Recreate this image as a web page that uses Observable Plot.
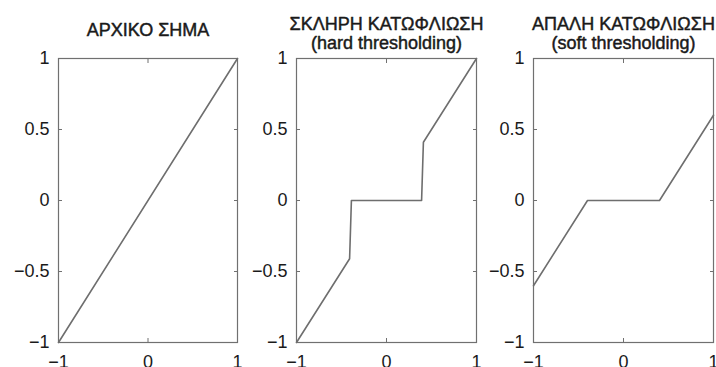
<!DOCTYPE html>
<html>
<head>
<meta charset="utf-8">
<script src="https://cdn.jsdelivr.net/npm/d3@7"></script>
<script src="https://cdn.jsdelivr.net/npm/@observablehq/plot@0.6"></script>
<style>
  body { margin: 0; background: #fff; }
  #chart { position: relative; width: 716px; height: 367px; overflow: hidden; background: #fff; }
  #chart svg { position: absolute; top: 0; overflow: visible; }
</style>
</head>
<body>
<div id="chart"></div>
<script>
// Tick values shared by all three panels
const xTicks = [-1, 0, 1];
const yTicks = [-1, -0.5, 0, 0.5, 1];

// Panel titles
const titles = [
  "ΑΡΧΙΚΟ ΣΗΜΑ",
  "ΣΚΛΗΡΗ ΚΑΤΩΦΛΙΩΣΗ\n(hard thresholding)",
  "ΑΠΑΛΗ ΚΑΤΩΦΛΙΩΣΗ\n(soft thresholding)"
];

// Original signal (identity)
const originalX = [-1, 1];
const originalY = [-1, 1];

// Hard thresholding, threshold ≈ 0.4
const hardX = [-1, -0.41, -0.39, 0.39, 0.41, 1];
const hardY = [-1, -0.41, 0, 0, 0.41, 1];

// Soft thresholding, threshold ≈ 0.4
const softX = [-1, -0.4, 0.4, 1];
const softY = [-0.6, 0, 0, 0.6];

const font = "'Liberation Sans', Arial, sans-serif";
const lineColor = "#6e6e6e";
const boxColor = "#707070";
const textColor = "#1a1a1a";

// "−1", "−0.5", "0", "0.5", "1"
const fmt = d => (d < 0 ? "\u2212" : "") + String(Math.abs(d));

// slightly heavier glyphs: a thin outline in the text colour
const heavy = {stroke: textColor, strokeWidth: 0.45, fill: textColor};

const panels = [
  {left: 0,   width: 245, marginLeft: 58, marginRight: 8, xs: originalX, ys: originalY, title: titles[0], titleDy: -22.5},
  {left: 245, width: 237, marginLeft: 51, marginRight: 6, xs: hardX, ys: hardY, title: titles[1], titleDy: -10},
  {left: 482, width: 234, marginLeft: 51, marginRight: 3, xs: softX, ys: softY, title: titles[2], titleDy: -10}
];

const chart = document.getElementById("chart");

for (const p of panels) {
  const svg = Plot.plot({
    width: p.width,
    height: 367,
    marginLeft: p.marginLeft,
    marginRight: p.marginRight,
    marginTop: 58,
    marginBottom: 25,
    x: {domain: [-1, 1], label: null},
    y: {domain: [-1, 1], label: null},
    style: {fontFamily: font, fontSize: "18px", color: textColor, background: "transparent", overflow: "visible"},
    marks: [
      Plot.frame({stroke: boxColor, strokeWidth: 1.2}),
      // tick labels
      Plot.axisX(xTicks, {anchor: "bottom", tickSize: 0, tickPadding: 13, tickFormat: fmt, label: null, fontSize: 18, ...heavy}),
      Plot.axisY(yTicks, {anchor: "left", tickSize: 0, tickPadding: 9, tickFormat: fmt, label: null, fontSize: 18, ...heavy}),
      // short inward ticks on all four sides of the box
      Plot.axisX(xTicks, {anchor: "bottom", tickSize: 4, dy: -4, tickFormat: () => "", label: null, stroke: boxColor}),
      Plot.axisX(xTicks, {anchor: "top", tickSize: 4, dy: 4, tickFormat: () => "", label: null, stroke: boxColor}),
      Plot.axisY(yTicks, {anchor: "left", tickSize: 4, dx: 4, tickFormat: () => "", label: null, stroke: boxColor}),
      Plot.axisY(yTicks, {anchor: "right", tickSize: 4, dx: -4, tickFormat: () => "", label: null, stroke: boxColor}),
      // the transfer curve
      Plot.line(p.xs.map((_, i) => i), {x: p.xs, y: p.ys, stroke: lineColor, strokeWidth: 1.6}),
      // title above the box
      Plot.text([p.title], {frameAnchor: "top", dy: p.titleDy, lineAnchor: "bottom", lineHeight: 1.05, fontSize: 18, ...heavy})
    ]
  });
  svg.style.left = p.left + "px";
  chart.appendChild(svg);
}
</script>
</body>
</html>
